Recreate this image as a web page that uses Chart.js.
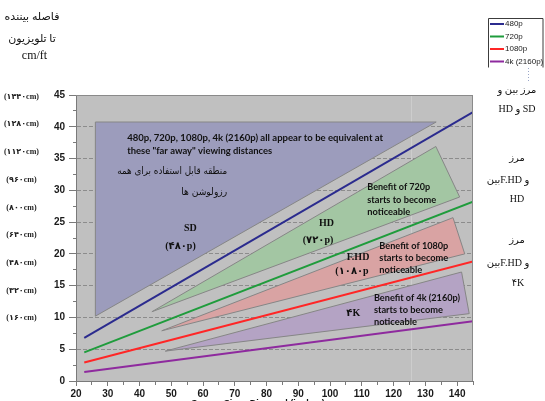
<!DOCTYPE html>
<html><head><meta charset="utf-8">
<script src="https://cdn.jsdelivr.net/npm/chart.js@4.4.1/dist/chart.umd.min.js"></script>
<style>
html,body{margin:0;padding:0;background:#fff;overflow:hidden;width:545px;height:401px}
#wrap{position:relative;width:545px;height:414px}
</style>
</head><body><div id="wrap"><canvas id="c" width="545" height="414"></canvas></div>
<script>
// ---- data ----
const screenSizes = [22.6, 145];
const dist480p  = [6.8, 42.3];
const dist720p  = [4.5, 28.2];
const dist1080p = [2.9, 18.8];
const dist4k    = [1.4, 9.4];
const seriesNames = ['480p', '720p', '1080p', '4k (2160p)'];

const zoneSDx  = [26.1, 133.4, 26.1, 26.1];
const zoneSDy  = [40.75, 40.75, 10.2, 40.75];
const zoneHDx  = [43.9, 133.3, 140.8, 43.9];
const zoneHDy  = [10.9, 36.9, 28.95, 10.9];
const zoneFHDx = [47.0, 138.7, 142.4, 47.0];
const zoneFHDy = [7.9, 25.7, 20.0, 7.9];
const zone4Kx  = [48.1, 141.4, 143.8, 48.1];
const zone4Ky  = [4.7, 17.15, 10.6, 4.7];

const cmValues = [160, 320, 480, 640, 800, 960, 1120, 1280, 1440];
const cmLabels = ['(۱۶۰cm)', '(۳۲۰cm)', '(۴۸۰cm)', '(۶۴۰cm)', '(۸۰۰cm)', '(۹۶۰cm)', '(۱۱۲۰cm)', '(۱۲۸۰cm)', '(۱۴۴۰cm)'];

const xTitle = 'Screen Size - Diagonal (inches)';
const yTitleLines = ['فاصله بیننده', 'تا تلویزیون', 'cm/ft'];
const faintGuideX = 125.5;

// ---- annotation texts (anchored in data units) ----
const LAT = 'bold 10px Lato, "Liberation Sans"';
const SER = 'bold 10px "Liberation Serif", "DejaVu Sans"';
const FA  = '10px "DejaVu Sans"';
const notes = [
  {t: '480p, 720p, 1080p, 4k (2160p) all appear to be equivalent at', x: 36.1, y: 38.2, a: 'left', f: LAT, w: 256},
  {t: 'these "far away" viewing distances', x: 36.1, y: 36.3, a: 'left', f: LAT, w: 145},
  {t: 'منطقه قابل استفاده برای همه', x: 67.6, y: 33.0, a: 'right', f: FA, w: 110},
  {t: 'رزولوشن ها', x: 67.6, y: 29.7, a: 'right', f: FA, w: 46},
  {t: 'SD', x: 56.0, y: 24.0, a: 'center', f: SER},
  {t: '(۴۸۰p)', x: 52.9, y: 21.2, a: 'center', f: SER},
  {t: 'HD', x: 98.9, y: 24.8, a: 'center', f: SER},
  {t: '(۷۲۰p)', x: 96.2, y: 22.1, a: 'center', f: SER},
  {t: 'Benefit of 720p', x: 111.7, y: 30.5, a: 'left', f: LAT, w: 63},
  {t: 'starts to become', x: 111.7, y: 28.5, a: 'left', f: LAT, w: 69},
  {t: 'noticeable', x: 111.7, y: 26.7, a: 'left', f: LAT, w: 43},
  {t: 'F.HD', x: 108.8, y: 19.5, a: 'center', f: SER},
  {t: '(۱۰۸۰p', x: 106.9, y: 17.3, a: 'center', f: SER},
  {t: 'Benefit of 1080p', x: 115.5, y: 21.2, a: 'left', f: LAT, w: 69},
  {t: 'starts to become', x: 115.5, y: 19.4, a: 'left', f: LAT, w: 69},
  {t: 'noticeable', x: 115.5, y: 17.5, a: 'left', f: LAT, w: 43},
  {t: '۴K', x: 107.3, y: 10.7, a: 'center', f: SER},
  {t: 'Benefit of 4k (2160p)', x: 113.8, y: 13.1, a: 'left', f: LAT, w: 86},
  {t: 'starts to become', x: 113.8, y: 11.2, a: 'left', f: LAT, w: 69},
  {t: 'noticeable', x: 113.8, y: 9.3, a: 'left', f: LAT, w: 43}
];
const sideNotes = [
  {t: 'مرز بین و', x: 517, y: 90},
  {t: 'HD و SD', x: 517, y: 109},
  {t: 'مرز', x: 517, y: 158},
  {t: 'بینF.HD و', x: 508, y: 180},
  {t: 'HD', x: 517, y: 199},
  {t: 'مرز', x: 517, y: 240},
  {t: 'بینF.HD و', x: 508, y: 263},
  {t: '۴K', x: 518, y: 283}
];

function lineDs(label, ys, color) {
  return {label, data: screenSizes.map((x, i) => ({x, y: ys[i]})), showLine: true,
    borderColor: color, backgroundColor: color, borderWidth: 2, pointRadius: 0,
    fill: false, order: 0, tension: 0, isSeries: true};
}
function zoneDs(label, xs, ys, color) {
  return {label, data: xs.map((x, i) => ({x, y: ys[i]})), showLine: true,
    borderColor: '#868686', borderWidth: 1, backgroundColor: color, fill: 'shape',
    pointRadius: 0, order: 1, tension: 0};
}

const decor = {
  id: 'decor',
  beforeDraw(chart) {
    const {ctx, chartArea: a} = chart;
    ctx.save();
    ctx.fillStyle = '#c0c0c0';
    ctx.fillRect(a.left, a.top, a.right - a.left, a.bottom - a.top);
    const gx = Math.round(chart.scales.x.getPixelForValue(faintGuideX)) + 0.5;
    ctx.strokeStyle = '#cdcdcd'; ctx.lineWidth = 1;
    ctx.beginPath(); ctx.moveTo(gx, a.top); ctx.lineTo(gx, a.bottom); ctx.stroke();
    ctx.restore();
  },
  afterDraw(chart) {
    const {ctx, chartArea: a, scales} = chart;
    const sx = scales.x, sy = scales.y;
    ctx.save();
    // frame top/right
    ctx.strokeStyle = '#8a8a8a'; ctx.lineWidth = 1;
    ctx.beginPath();
    ctx.moveTo(a.left, Math.round(a.top) + 0.5); ctx.lineTo(a.right, Math.round(a.top) + 0.5);
    ctx.moveTo(Math.round(a.right) - 0.5, a.top); ctx.lineTo(Math.round(a.right) - 0.5, a.bottom);
    ctx.stroke();
    // in-plot notes
    ctx.fillStyle = '#111';
    ctx.textBaseline = 'middle';
    ctx.direction = 'ltr';
    notes.forEach(n => {
      ctx.font = n.f; ctx.textAlign = n.a;
      const px = sx.getPixelForValue(n.x), py = sy.getPixelForValue(n.y);
      if (n.w) ctx.fillText(n.t, px, py, n.w); else ctx.fillText(n.t, px, py);
    });
    // side notes
    ctx.font = '10px "Liberation Serif", "DejaVu Sans"';
    ctx.textAlign = 'center';
    sideNotes.forEach(n => ctx.fillText(n.t, n.x, n.y));
    // y title
    ctx.font = '11px "Liberation Serif", "DejaVu Sans"';
    ctx.fillText(yTitleLines[0], 32, 17);
    ctx.fillText(yTitleLines[1], 32, 39);
    ctx.font = '12px "Liberation Serif"';
    ctx.fillText(yTitleLines[2], 34.5, 56);
    // x title (cut by window bottom)
    ctx.font = 'bold 9px "Liberation Sans"';
    ctx.fillText(xTitle, 258, 404);
    // legend
    const lx = 488.5, ly = 18.5, lw = 54.5, lh = 49;
    ctx.strokeStyle = '#3c3c3c';
    ctx.beginPath();
    ctx.moveTo(lx, ly + lh); ctx.lineTo(lx, ly); ctx.lineTo(lx + lw, ly); ctx.lineTo(lx + lw, ly + lh);
    ctx.stroke();
    ctx.font = '8px "Liberation Sans"';
    ctx.textAlign = 'left';
    const items = chart.data.datasets.filter(d => d.isSeries);
    items.forEach((d, i) => {
      const yy = 24 + i * 12.5;
      ctx.strokeStyle = d.borderColor; ctx.lineWidth = 2;
      ctx.beginPath(); ctx.moveTo(490, yy); ctx.lineTo(504, yy); ctx.stroke();
      ctx.fillStyle = '#222';
      ctx.fillText(d.label, 505, yy);
    });
    // dotted mark under legend
    ctx.strokeStyle = '#9aa6c8'; ctx.lineWidth = 1; ctx.setLineDash([1, 2]);
    ctx.beginPath(); ctx.moveTo(528.5, 68); ctx.lineTo(528.5, 81); ctx.stroke();
    ctx.restore();
  }
};

Chart.defaults.font.family = '"Liberation Sans"';
new Chart(document.getElementById('c'), {
  type: 'scatter',
  data: {
    datasets: [
      lineDs(seriesNames[0], dist480p, '#2b2b8e'),
      lineDs(seriesNames[1], dist720p, '#1f9c3c'),
      lineDs(seriesNames[2], dist1080p, '#ff2626'),
      lineDs(seriesNames[3], dist4k, '#8e2a9e'),
      zoneDs('SD', zoneSDx, zoneSDy, '#9c9cbc'),
      zoneDs('HD', zoneHDx, zoneHDy, '#a3c6a3'),
      zoneDs('F.HD', zoneFHDx, zoneFHDy, '#d9a3a3'),
      zoneDs('4K', zone4Kx, zone4Ky, '#b4a3c4')
    ]
  },
  options: {
    responsive: false, animation: false, events: [],
    layout: {padding: {top: 95, right: 72, bottom: 0, left: 0}},
    plugins: {legend: {display: false}, tooltip: {enabled: false}},
    scales: {
      x: {
        type: 'linear', min: 20, max: 145,
        ticks: {stepSize: 5, includeBounds: false, autoSkip: false, maxRotation: 0, padding: 2,
          color: '#1a1a1a', font: {weight: 'bold', size: 10},
          callback: v => (v % 10 === 0 ? v : '')},
        grid: {drawOnChartArea: false, tickLength: 5, tickColor: '#7a7a7a',
          tickBorderDash: c => (c.tick && c.tick.value % 10 !== 0 ? [3, 100] : [])},
        border: {color: '#7a7a7a', width: 1},
        afterFit: s => { s.height = 33; }
      },
      y: {
        type: 'linear', position: 'left', min: 0, max: 45, weight: 0,
        ticks: {stepSize: 2.5, includeBounds: false, autoSkip: false, padding: 4,
          color: '#1a1a1a', font: {weight: 'bold', size: 10},
          callback: v => (v % 5 === 0 ? v : '')},
        grid: {color: c => (c.tick && c.tick.value % 5 === 0 ? '#8c8c8c' : 'rgba(0,0,0,0)'),
          tickColor: '#7a7a7a', tickLength: 7,
          tickBorderDash: c => (c.tick && c.tick.value % 5 !== 0 ? [0, 4, 3, 100] : [])},
        border: {color: '#7a7a7a', width: 1, dash: [4, 2]},
        afterFit: s => { s.width = 31; }
      },
      cm: {
        type: 'linear', position: 'left', min: -202, max: 1450, weight: 1,
        afterBuildTicks: s => { s.ticks = cmValues.map(v => ({value: v})); },
        ticks: {autoSkip: false, padding: 6, crossAlign: 'center', color: '#222',
          font: {family: '"Liberation Serif", "DejaVu Sans"', weight: 'bold', size: 8},
          callback: (v, i) => cmLabels[i]},
        grid: {display: false, drawTicks: false},
        border: {display: false},
        afterFit: s => { s.width = 45; }
      }
    }
  },
  plugins: [decor]
});
</script>
</body></html>
